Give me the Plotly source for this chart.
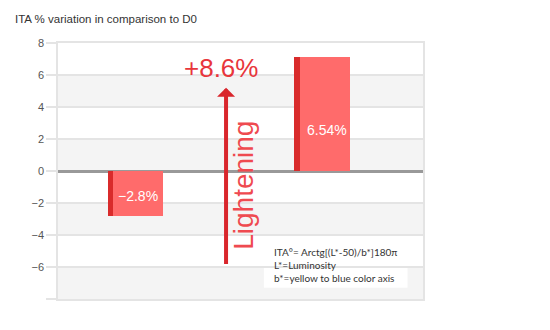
import plotly.graph_objects as go

# ---- data ----
slots = [1, 3]                       # category slot positions of the two bars
values = [-2.8, 7.1]                 # bar heights as drawn
bar_labels = ["\u22122.8%", "6.54%"]
y_ticks = [-6, -4, -2, 0, 2, 4, 6, 8]
y_tick_text = ["\u22126", "\u22124", "\u22122", "0", "2", "4", "6", "8"]
title_text = "ITA % variation in comparison to D0"
arrow_label = "+8.6%"
arrow_from, arrow_to = -5.9, 5.2
side_text = "Lightening"
note_lines = ["ITA\u00b0= Arctg[(L*-50)/b*]180\u03c0", "L*=Luminosity", "b*=yellow to blue color axis"]

FRONT = "#ff6b6b"
SIDE = "#d92b2b"
RED_TXT = "#e8363c"
ARROW = "#d9262c"

fig = go.Figure()
# dark side strip (3D effect)
fig.add_trace(go.Bar(x=slots, y=values, width=0.054, offset=-0.322,
                     marker=dict(color=SIDE, line=dict(width=0)), hoverinfo="skip"))
# front face
fig.add_trace(go.Bar(x=slots, y=values, width=0.536, offset=-0.268,
                     marker=dict(color=FRONT, line=dict(width=0))))

shapes = []
# alternating grey bands
for lo, hi in [(4, 6), (0, 2), (-4, -2), (-8, -6)]:
    shapes.append(dict(type="rect", xref="paper", yref="y", x0=0, x1=1, y0=lo, y1=hi,
                       fillcolor="#f4f4f4", line=dict(width=0), layer="below"))
# note box background
shapes.append(dict(type="rect", xref="x", yref="y", x0=2.35, x1=3.89, y0=-4.0, y1=-7.3,
                   fillcolor="white", line=dict(width=0), layer="below"))

annotations = []
for s, v, t, dy, dx in zip(slots, values, bar_labels, [-1.56, 2.56], [0.0, 0.03]):
    annotations.append(dict(x=s + dx, y=dy, text=t, showarrow=False,
                            font=dict(family="Liberation Sans, Arial", size=14, color="white")))
# arrow
annotations.append(dict(x=1.944, y=arrow_to, ax=1.944, ay=arrow_from, axref="x", ayref="y",
                        xref="x", yref="y", text="", showarrow=True, arrowhead=1,
                        arrowsize=0.75, arrowwidth=4, arrowcolor=ARROW))
annotations.append(dict(x=1.89, y=6.45, text=arrow_label, showarrow=False,
                        font=dict(family="Liberation Sans, Arial", size=26, color=RED_TXT)))
annotations.append(dict(x=2.13, y=-0.9, text=side_text, showarrow=False, textangle=-90,
                        font=dict(family="Liberation Sans, Arial", size=28, color="#ef4a50")))
annotations.append(dict(x=2.44, y=-5.9, xanchor="left", yanchor="middle", align="left",
                        text="<br>".join(note_lines), showarrow=False,
                        font=dict(family="Lato, Roboto", size=10, color="#333")))
annotations.append(dict(x=(13 - 58) / 365, y=1 + (43 - 19) / 256, xref="paper", yref="paper",
                        xanchor="left", yanchor="middle", text=title_text, showarrow=False,
                        font=dict(family="Liberation Sans, Arial", size=11.5, color="#333")))

fig.update_layout(
    width=550, height=330, autosize=False,
    margin=dict(l=58, r=127, t=43, b=31),
    paper_bgcolor="white", plot_bgcolor="white",
    showlegend=False, barmode="overlay", bargap=0,
    shapes=shapes, annotations=annotations,
    xaxis=dict(range=[0.142, 4.056], showticklabels=False, showgrid=False, zeroline=False,
               showline=True, mirror=True, linecolor="#e4e4e4", linewidth=1.5, ticks=""),
    yaxis=dict(range=[-8, 8], tickvals=y_ticks + [-8], ticktext=y_tick_text + [""],
               showgrid=True, gridcolor="#e4e4e4", gridwidth=1.5,
               zeroline=True, zerolinecolor="#999999", zerolinewidth=2.5,
               showline=True, mirror=True, linecolor="#e4e4e4", linewidth=1.5,
               ticks="outside", ticklen=10, tickcolor="#e4e4e4", tickwidth=1.5,
               tickfont=dict(family="Liberation Sans, Arial", size=11, color="#555"),
               layer="below traces"),
)

fig.write_html("out.html")
